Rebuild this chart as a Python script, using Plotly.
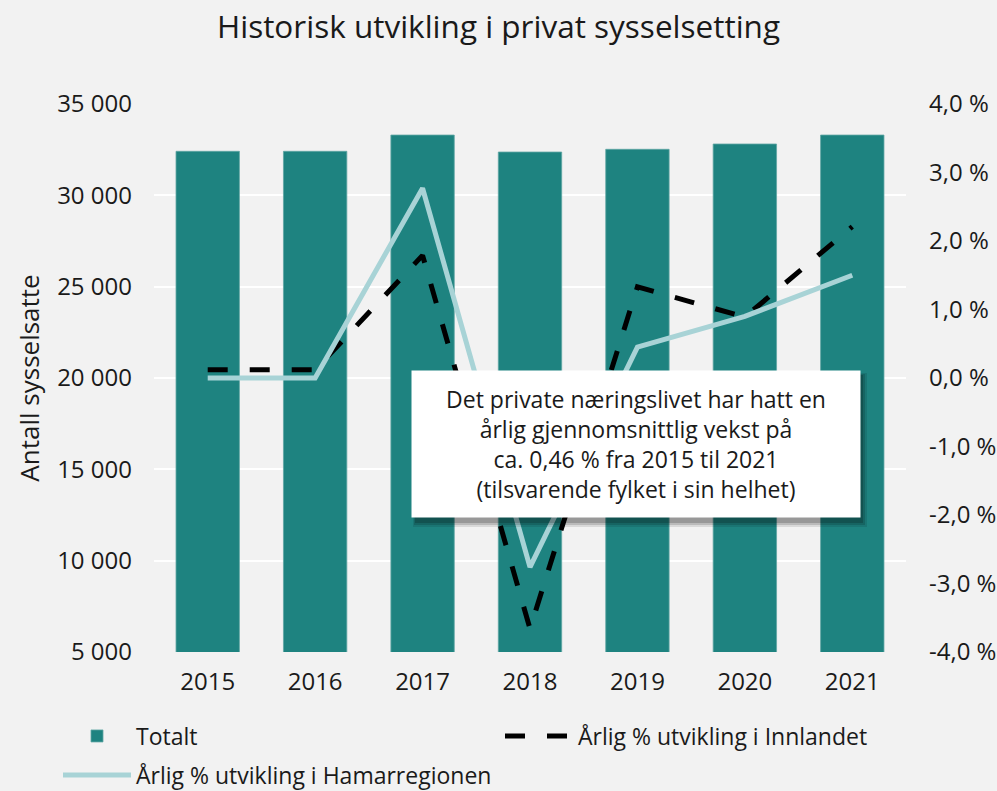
import plotly.graph_objects as go

years = ["2015", "2016", "2017", "2018", "2019", "2020", "2021"]
totalt = [32410, 32410, 33300, 32370, 32520, 32810, 33300]
innlandet = [0.12, 0.12, 1.79, -3.66, 1.33, 0.89, 2.21]
hamar = [0.0, 0.0, 2.77, -2.76, 0.45, 0.90, 1.50]

left_ticks = [5000, 10000, 15000, 20000, 25000, 30000, 35000]
left_labels = ["5 000", "10 000", "15 000", "20 000", "25 000", "30 000", "35 000"]
right_ticks = [-4, -3, -2, -1, 0, 1, 2, 3, 4]
right_labels = ["-4,0 %", "-3,0 %", "-2,0 %", "-1,0 %", "0,0 %", "1,0 %", "2,0 %", "3,0 %", "4,0 %"]

title_text = "Historisk utvikling i privat sysselsetting"
note_text = ("Det private næringslivet har hatt en<br>årlig gjennomsnittlig vekst på<br>"
             "ca. 0,46 % fra 2015 til 2021<br>(tilsvarende fylket i sin helhet)")

FONT = "Open Sans"
W, H = 997, 791
ML, MR, MT, MB = 154, 91, 104, 139
PW, PH = W - ML - MR, H - MT - MB


def px2paper(px, py):
    return (px - ML) / PW, (H - MB - py) / PH


fig = go.Figure()
fig.add_trace(go.Bar(
    x=years, y=totalt, name="Totalt", legend="legend",
    marker=dict(color="#1e8380", line=dict(color="#5fa6a3", width=0.8)),
))
fig.add_trace(go.Scatter(
    x=years, y=innlandet, name="Årlig % utvikling i Innlandet", yaxis="y2", legend="legend",
    mode="lines", line=dict(color="#000000", width=5, dash="20px,22px"),
))
fig.add_trace(go.Scatter(
    x=years, y=hamar, name="Årlig % utvikling i Hamarregionen", yaxis="y2", legend="legend2",
    mode="lines", line=dict(color="#a8d3d6", width=5),
))

# soft shadow of the note box
shapes = []
for (dx0, dy0, dx1, dy1, op) in [(1, 2, 7, 10, 0.10), (2, 3, 5, 8, 0.14), (3, 4, 3, 6, 0.18)]:
    x0, y0 = px2paper(412 + dx0, 517 + dy1)
    x1, y1 = px2paper(860 + dx1, 371 + dy0)
    shapes.append(dict(type="rect", xref="paper", yref="paper", x0=x0, y0=y0, x1=x1, y1=y1,
                       fillcolor=f"rgba(0,0,0,{op})", line=dict(width=0), layer="above"))

ax, ay = px2paper(636, 444)
lx, _ = px2paper(58, 0)
_, ly1 = px2paper(0, 736)
_, ly2 = px2paper(0, 775)

legend_common = dict(orientation="h", xanchor="left", yanchor="middle",
                     bgcolor="rgba(0,0,0,0)", itemwidth=68,
                     font=dict(family=FONT, size=23, color="#1a1a1a"))

fig.update_layout(
    width=W, height=H,
    margin=dict(l=ML, r=MR, t=MT, b=MB, autoexpand=False),
    paper_bgcolor="#f2f2f2", plot_bgcolor="#f2f2f2",
    font=dict(family=FONT, size=24, color="#1a1a1a"),
    title=dict(text=title_text, x=0.5, xref="container", xanchor="center",
               y=1 - 27 / H, yref="container", yanchor="middle",
               font=dict(family=FONT, size=31.5, color="#1a1a1a")),
    bargap=0.41,
    xaxis=dict(showgrid=False, showline=False, zeroline=False, ticks="",
               ticklabelstandoff=13, tickfont=dict(size=24)),
    yaxis=dict(range=[5000, 35000], tickvals=left_ticks, ticktext=left_labels,
               showgrid=True, gridcolor="#ffffff", gridwidth=2, zeroline=False,
               showline=False, ticks="", ticklabelstandoff=21, tickfont=dict(size=24),
               title=dict(text="Antall sysselsatte", font=dict(size=26), standoff=10)),
    yaxis2=dict(range=[-4, 4], tickvals=right_ticks, ticktext=right_labels,
                overlaying="y", side="right", showgrid=False, zeroline=False,
                showline=False, ticks="", ticklabelstandoff=22, tickfont=dict(size=24)),
    showlegend=True,
    legend=dict(x=lx, y=ly1, entrywidth=359, entrywidthmode="pixels", **legend_common),
    legend2=dict(x=lx, y=ly2, **legend_common),
    shapes=shapes,
    annotations=[dict(text=note_text, xref="paper", yref="paper", x=ax, y=ay,
                      xanchor="center", yanchor="middle", showarrow=False,
                      align="center", bgcolor="#ffffff", width=440, height=138,
                      borderpad=4, font=dict(family=FONT, size=23, color="#1a1a1a"))],
)

fig.write_html("out.html", config={"displayModeBar": False},
               post_script="document.body.style.margin='0';")
